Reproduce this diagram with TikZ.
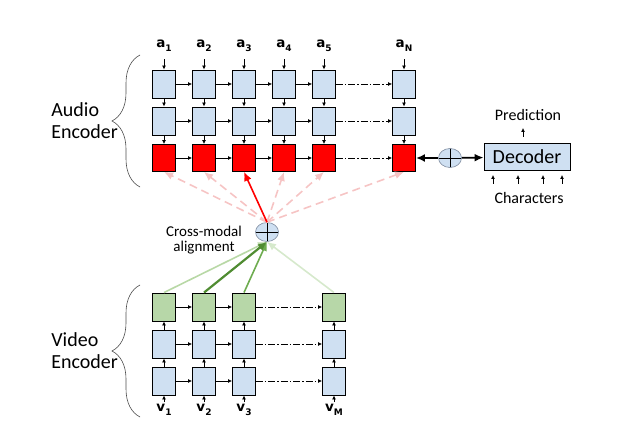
\documentclass[tikz,border=0pt]{standalone}
\usepackage{fontspec}
\setmainfont{Carlito}
\newfontfamily\labfont{DejaVu Sans}
\usetikzlibrary{arrows.meta}
\usetikzlibrary{decorations.pathreplacing}
\usetikzlibrary{shapes.geometric}
\tikzset{>={Latex[length=4pt,width=4pt]}}
\definecolor{cellblue}{RGB}{207,224,242}
\definecolor{cellgreen}{RGB}{183,215,168}
\definecolor{sumgray}{RGB}{125,138,158}
\definecolor{softred}{RGB}{246,196,196}
\definecolor{greenA}{RGB}{184,216,166}
\definecolor{greenB}{RGB}{80,140,50}
\definecolor{greenC}{RGB}{110,172,80}
\definecolor{greenD}{RGB}{214,233,204}
\newcommand\lowidx[1]{\raisebox{-4pt}{\fontsize{9}{9}\selectfont #1}}

\begin{document}
\begin{tikzpicture}[x=1pt,y=-1pt,line width=0.75pt,
  cell/.style = {draw, line width=0.9pt, fill=cellblue, minimum width=23pt, minimum height=28pt, inner sep=0pt},
  redcell/.style = {cell, fill=red, minimum height=27pt},
  greencell/.style = {cell, fill=cellgreen},
  lab/.style = {font=\labfont\bfseries\fontsize{13.5}{13.5}\selectfont, inner sep=1pt, anchor=base},
  sum/.style = {ellipse, draw=sumgray, line width=0.6pt, fill=cellblue, minimum width=23pt, minimum height=19pt, inner sep=0pt,
    path picture={\draw[black,line width=0.9pt] (path picture bounding box.north) -- (path picture bounding box.south)
      (path picture bounding box.west) -- (path picture bounding box.east);}},
  dashdot/.style = {dash pattern=on 7pt off 2pt on 1.5pt off 2pt},
  big/.style = {>={Latex[length=9pt,width=8pt]}},
  soft/.style = {big, ->, draw=softred, line width=1.6pt, dash pattern=on 8pt off 5pt},
  bracket/.style = {decorate, decoration={brace, amplitude=28pt}, draw=black!70, line width=0.6pt}]
\useasboundingbox (0,0) rectangle (620,435);

% audio encoder
\node[lab] (a1) at (164,48) {a\lowidx{1}};
\node[lab] (a2) at (204,48) {a\lowidx{2}};
\node[lab] (a3) at (244,48) {a\lowidx{3}};
\node[lab] (a4) at (284,48) {a\lowidx{4}};
\node[lab] (a5) at (324,48) {a\lowidx{5}};
\node[lab] (aN) at (404,48) {a\lowidx{N}};
\node[cell] (a11) at (164,84) {};
\node[cell] (a21) at (204,84) {};
\node[cell] (a31) at (244,84) {};
\node[cell] (a41) at (284,84) {};
\node[cell] (a51) at (324,84) {};
\node[cell] (aN1) at (404,84) {};
\node[cell] (a12) at (164,121) {};
\node[cell] (a22) at (204,121) {};
\node[cell] (a32) at (244,121) {};
\node[cell] (a42) at (284,121) {};
\node[cell] (a52) at (324,121) {};
\node[cell] (aN2) at (404,121) {};
\node[redcell] (a13) at (164,158) {};
\node[redcell] (a23) at (204,158) {};
\node[redcell] (a33) at (244,158) {};
\node[redcell] (a43) at (284,158) {};
\node[redcell] (a53) at (324,158) {};
\node[redcell] (aN3) at (404,158) {};
\draw[->,shorten <=6pt] (a1) edge (a11) (a2) edge (a21) (a3) edge (a31) (a4) edge (a41) (a5) edge (a51) (aN) edge (aN1);
\draw[->] (a11) edge (a12) (a21) edge (a22) (a31) edge (a32) (a41) edge (a42) (a51) edge (a52) (aN1) edge (aN2);
\draw[->] (a12) edge (a13) (a22) edge (a23) (a32) edge (a33) (a42) edge (a43) (a52) edge (a53) (aN2) edge (aN3);
\draw[->] (a11) edge (a21) (a21) edge (a31) (a31) edge (a41) (a41) edge (a51);
\draw[->] (a12) edge (a22) (a22) edge (a32) (a32) edge (a42) (a42) edge (a52);
\draw[->] (a13) edge (a23) (a23) edge (a33) (a33) edge (a43) (a43) edge (a53);
\draw[->,dashdot] (a51) edge (aN1) (a52) edge (aN2) (a53) edge (aN3);

% video encoder
\node[lab] (v1) at (164,411) {v\lowidx{1}};
\node[lab] (v2) at (204,411) {v\lowidx{2}};
\node[lab] (v3) at (244,411) {v\lowidx{3}};
\node[lab] (vM) at (334,411) {v\lowidx{M}};
\node[greencell] (v11) at (164,307) {};
\node[greencell] (v21) at (204,307) {};
\node[greencell] (v31) at (244,307) {};
\node[greencell] (vM1) at (334,307) {};
\node[cell] (v12) at (164,344) {};
\node[cell] (v22) at (204,344) {};
\node[cell] (v32) at (244,344) {};
\node[cell] (vM2) at (334,344) {};
\node[cell] (v13) at (164,381) {};
\node[cell] (v23) at (204,381) {};
\node[cell] (v33) at (244,381) {};
\node[cell] (vM3) at (334,381) {};
\draw[->] (v1) edge (v13) (v2) edge (v23) (v3) edge (v33) (vM) edge (vM3);
\draw[->] (v13) edge (v12) (v23) edge (v22) (v33) edge (v32) (vM3) edge (vM2);
\draw[->] (v12) edge (v11) (v22) edge (v21) (v32) edge (v31) (vM2) edge (vM1);
\draw[->] (v11) edge (v21) (v21) edge (v31) (v12) edge (v22) (v22) edge (v32) (v13) edge (v23) (v23) edge (v33);
\draw[->,dashdot] (v31) edge (vM1) (v32) edge (vM2) (v33) edge (vM3);

% alignment
\node[sum] (plus) at (267,232) {};
\node[font=\fontsize{15}{15}\selectfont, align=center] (cm) at (204,240) {Cross-modal\\alignment};
\draw[soft] (plus.north) -- (a13.south);
\draw[soft] (plus.north) -- (a23.south);
\draw[soft] (plus.north) -- (a43.south);
\draw[soft] (plus.north) -- (a53.south);
\draw[soft] (plus.north) -- (aN3.south);
\draw[big,->,red,line width=1.6pt] (plus.north) -- (a33.south);
\draw[big,->,draw=greenA,line width=1.6pt] (v11.north) -- (plus.south);
\draw[big,->,draw=greenD,line width=1.6pt] (vM1.north) -- (plus.south);
\draw[big,->,draw=greenC,line width=1.6pt] (v31.north) -- (plus.south);
\draw[big,->,draw=greenB,line width=2.2pt] (v21.north) -- (plus.south);

% decoder
\node[sum] (sum) at (450,158) {};
\node[cell, minimum width=86pt, minimum height=27pt, font=\fontsize{20}{20}\selectfont] (dec) at (527,157) {Decoder};
\node[font=\fontsize{16}{16}\selectfont] (pred) at (528,115) {Prediction};
\node[font=\fontsize{16}{16}\selectfont] (chars) at (529,198) {Characters};
\draw[big,->,line width=1.8pt] (sum) -- (aN3);
\draw[big,->,line width=1.8pt] (sum) -- (dec);
\coordinate (p0) at (523,137);
\coordinate (p1) at (523,128);
\draw[->] (p0) -- (p1);
\coordinate (t1) at (493,184);
\coordinate (h1) at (493,175);
\coordinate (t2) at (518,184);
\coordinate (h2) at (518,175);
\coordinate (t3) at (543,184);
\coordinate (h3) at (543,175);
\coordinate (t4) at (562,184);
\coordinate (h4) at (562,175);
\draw[->] (t1) -- (h1);
\draw[->] (t2) -- (h2);
\draw[->] (t3) -- (h3);
\draw[->] (t4) -- (h4);

% braces
\draw[bracket] (140,187) -- (140,55);
\draw[bracket] (140,417) -- (140,285);
\node[font=\fontsize{20}{22}\selectfont, align=left, anchor=west, inner sep=0pt] (audio) at (51,121) {Audio\\Encoder};
\node[font=\fontsize{20}{22}\selectfont, align=left, anchor=west, inner sep=0pt] (video) at (51,351) {Video\\Encoder};
\end{tikzpicture}
\end{document}
